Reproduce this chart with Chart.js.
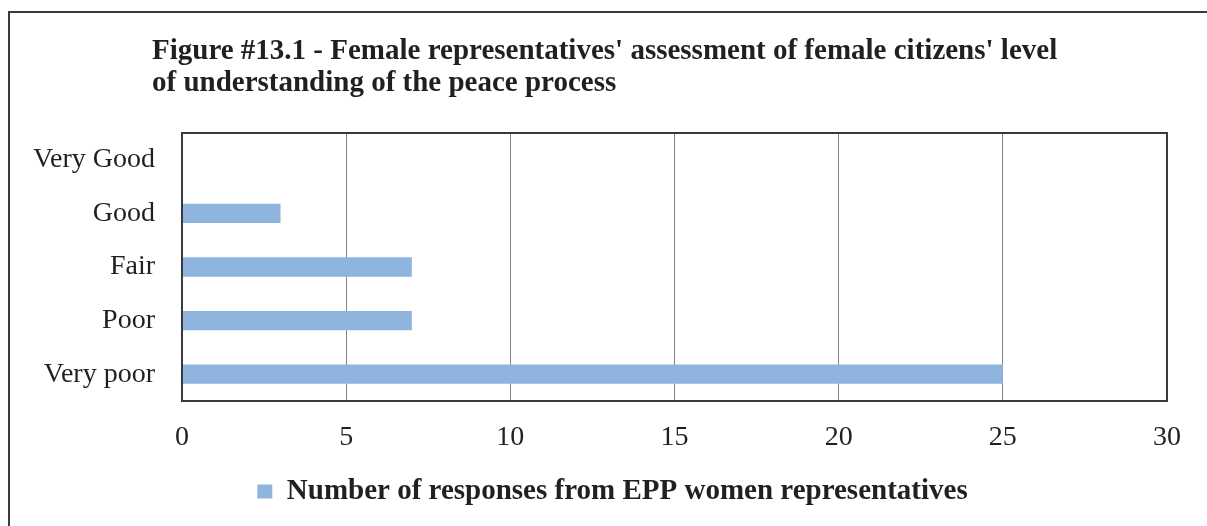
<!DOCTYPE html>
<html>
<head>
<meta charset="utf-8">
<script src="https://cdn.jsdelivr.net/npm/chart.js@4.4.1/dist/chart.umd.min.js"></script>
<style>
  html, body { margin: 0; padding: 0; background: #fff; overflow: hidden; }
  #wrap { width: 1207px; height: 526px; }
</style>
</head>
<body>
<div id="wrap"><canvas id="myChart" width="1207" height="526"></canvas></div>
<script>
const categories = ["Very Good", "Good", "Fair", "Poor", "Very poor"];
const responses = [0, 3, 7, 7, 25];
const seriesLabel = "Number of responses from EPP women representatives";
const titleLines = [
  "Figure #13.1 - Female representatives' assessment of female citizens' level",
  "of understanding of the peace process",
];
const xTicks = [0, 5, 10, 15, 20, 25, 30];

const textColor = "#231f20";
const serif = "'Liberation Serif', 'Times New Roman', serif";

Chart.defaults.font.family = serif;
Chart.defaults.color = textColor;

// outer frame, title and plot border (drawn by hand like the Excel figure)
const framePlugin = {
  id: "frame",
  afterLayout(chart) {
    // legend is centred on the whole figure frame, not on the canvas
    chart.legend.left += 19;
    chart.legend.right += 19;
  },
  beforeDraw(chart) {
    const ctx = chart.ctx;
    ctx.save();
    ctx.fillStyle = "#fff";
    ctx.fillRect(0, 0, chart.width, chart.height);
    ctx.strokeStyle = "#3a3a3a";
    ctx.lineWidth = 2;
    ctx.strokeRect(9, 12, 1400, 800);
    ctx.fillStyle = textColor;
    ctx.font = "bold 29px " + serif;
    ctx.textBaseline = "alphabetic";
    ctx.textAlign = "left";
    ctx.fillText(titleLines[0], 152, 59);
    ctx.fillText(titleLines[1], 152, 91);
    ctx.restore();
  },
  afterDatasetsDraw(chart) {
    const a = chart.chartArea;
    const ctx = chart.ctx;
    ctx.save();
    ctx.strokeStyle = "#3a3a3a";
    ctx.lineWidth = 2;
    ctx.strokeRect(a.left, a.top, a.right - a.left, a.bottom - a.top);
    ctx.restore();
  },
};

const ctx = document.getElementById("myChart").getContext("2d");
new Chart(ctx, {
  type: "bar",
  data: {
    labels: categories,
    datasets: [
      {
        label: seriesLabel,
        data: responses,
        backgroundColor: "#8fb4de",
        borderWidth: 0,
        barPercentage: 0.36,
        categoryPercentage: 1,
      },
    ],
  },
  options: {
    indexAxis: "y",
    responsive: false,
    animation: false,
    layout: { padding: { left: 20, right: 40, top: 133, bottom: 10 } },
    scales: {
      x: {
        min: xTicks[0],
        max: xTicks[xTicks.length - 1],
        ticks: { stepSize: xTicks[1] - xTicks[0], padding: 20, font: { size: 28 }, color: textColor },
        grid: { color: "#858585", lineWidth: 1, drawTicks: false },
        border: { display: false },
        afterFit: (scale) => { scale.height = 66; },
      },
      y: {
        ticks: { padding: 27, font: { size: 28 }, color: textColor },
        grid: { display: false, drawTicks: false },
        border: { display: false },
        afterFit: (scale) => { scale.width = 162; },
      },
    },
    plugins: {
      legend: {
        position: "bottom",
        labels: {
          boxWidth: 15,
          boxHeight: 14,
          padding: 10,
          color: textColor,
          font: { size: 29, weight: "bold" },
        },
      },
      tooltip: { enabled: false },
    },
  },
  plugins: [framePlugin],
});
</script>
</body>
</html>
